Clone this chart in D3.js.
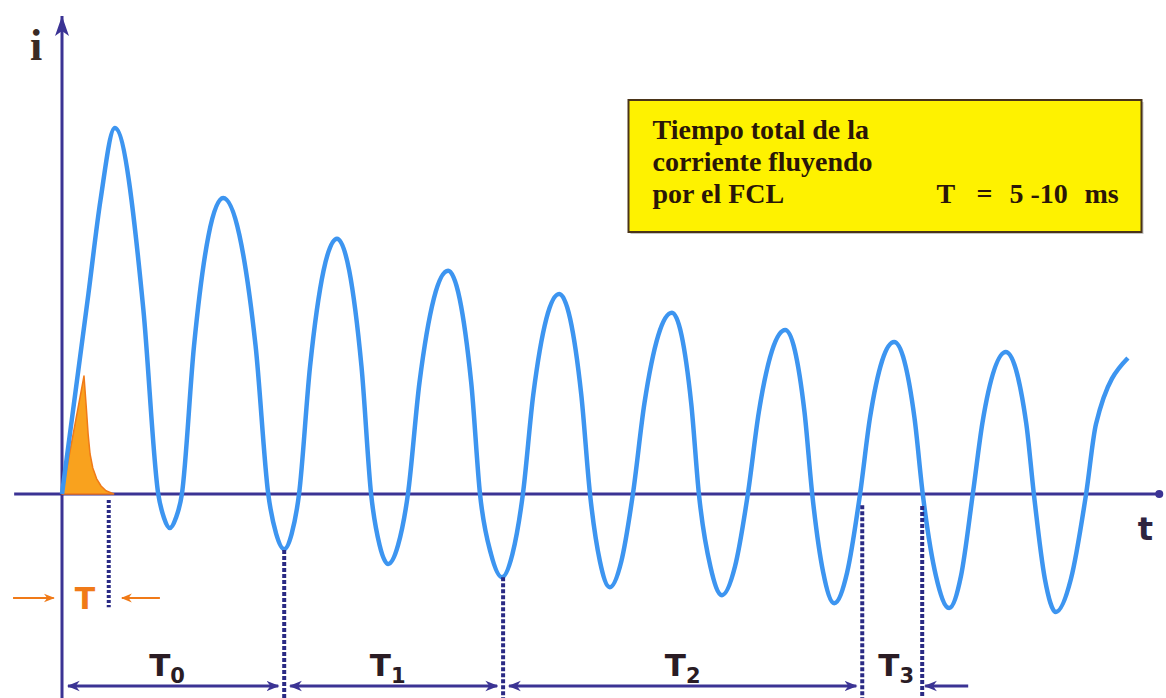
<!DOCTYPE html>
<html>
<head>
<meta charset="utf-8">
<script src="https://cdn.jsdelivr.net/npm/d3@7"></script>
<style>
  body { margin: 0; background: #fff; }
  svg { display: block; }
</style>
</head>
<body>
<svg id="chart" width="1166" height="698"></svg>
<script>
  // short-circuit current through the FCL (t in ms, i in p.u.)
  // zero crossings, flank points and extremes of every half wave
  var curveT = [0, 4.8, 7.0, 9.6, 14.8, 17.5, 18.55, 19.6, 20.7, 21.8,
                24.0, 29.3, 35.2, 37.5, 38.95, 40.4, 41.75, 43.1,
                45.1, 50.0, 54.45, 56.2, 57.75, 59.3, 61.1, 62.9,
                65.0, 70.2, 74.4, 76.0, 78.0, 80.0, 81.9, 83.8,
                85.7, 90.4, 94.4, 96.0, 97.8, 99.6, 101.7, 103.8,
                105.9, 110.9, 114.4, 115.8, 117.9, 120.0, 122.35, 124.7,
                126.7, 131.5, 135.0, 136.4, 138.4, 140.4, 142.75, 145.1,
                146.9, 151.3, 155.0, 156.5, 158.9, 161.3, 163.45, 165.6,
                167.35, 171.6, 175.3, 176.7, 178.7, 180.7, 183.45, 186.2,
                188.0, 193.8];
  var curveI = [0, 5.0, 7.35, 9.15, 4.6, 0, -0.6, -0.85, -0.6, 0,
                3.7, 7.4, 3.7, 0, -1.0, -1.38, -1.0, 0,
                3.19, 6.38, 3.19, 0, -1.28, -1.75, -1.28, 0,
                2.79, 5.58, 2.79, 0, -1.5, -2.08, -1.5, 0,
                2.5, 5.0, 2.5, 0, -1.68, -2.33, -1.68, 0,
                2.27, 4.53, 2.27, 0, -1.82, -2.53, -1.82, 0,
                2.05, 4.1, 2.05, 0, -1.96, -2.73, -1.96, 0,
                1.9, 3.8, 1.9, 0, -2.05, -2.85, -2.05, 0,
                1.78, 3.55, 1.78, 0, -2.12, -2.95, -2.12, 0,
                1.75, 3.4];

  // limited current pulse (orange)
  var pulseT = [0, 4.0, 4.4, 4.75, 5.1, 5.6, 6.3, 7.1, 8.0, 9.4];
  var pulseI = [0, 2.95, 2.2, 1.5, 1.0, 0.65, 0.38, 0.2, 0.08, 0];

  // interval boundaries (ms) and labels
  var pulseEnd   = 8.5;
  var spanStart  = [0, 40.4, 80.2, 145.5];
  var spanEnd    = [40.4, 80.2, 145.5, 156.4];
  var spanSub    = ["0", "1", "2", "3"];
  var dropFrom   = [-1.4, -2.08, -0.28, -0.3];   // where each dotted line starts

  var boxLines = ["Tiempo total de la", "corriente fluyendo", "por el FCL"];

  var svg = d3.select("#chart");
  var x = d3.scaleLinear().domain([0, 200]).range([62, 1162]);
  var y = d3.scaleLinear().domain([0, 10]).range([494, 94]);

  var navy = "#3b3394", dark = "#2a2a84", blue = "#3d95f0", orange = "#f07a18";

  var defs = svg.append("defs");
  function marker(id, color, size) {
    defs.append("marker")
      .attr("id", id)
      .attr("viewBox", "0 0 10 10")
      .attr("refX", 9).attr("refY", 5)
      .attr("markerWidth", size).attr("markerHeight", size)
      .attr("markerUnits", "userSpaceOnUse")
      .attr("orient", "auto-start-reverse")
      .append("path")
      .attr("d", "M0,1 L10,5 L0,9 L3,5 Z")
      .attr("fill", color);
  }
  marker("arrNavy", navy, 13);
  marker("arrOrange", orange, 11);

  // axes
  svg.append("line")
    .attr("x1", x(-8.7)).attr("x2", x(199.5))
    .attr("y1", y(0)).attr("y2", y(0))
    .attr("stroke", navy).attr("stroke-width", 3);
  svg.append("circle")
    .attr("cx", x(199.5)).attr("cy", y(0)).attr("r", 4)
    .attr("fill", navy);
  svg.append("line")
    .attr("x1", x(0)).attr("x2", x(0))
    .attr("y1", y(-5.2)).attr("y2", y(11.95))
    .attr("stroke", navy).attr("stroke-width", 3);
  svg.append("path")
    .attr("d", "M" + x(0) + "," + y(11.95) + " l-7,20 l7,-5 l7,5 z")
    .attr("fill", navy);

  svg.append("text")
    .attr("x", 30).attr("y", 60)
    .attr("font-family", "Liberation Serif").attr("font-weight", "bold")
    .attr("font-size", 44).attr("fill", "#3a2a24")
    .text("i");
  svg.append("text")
    .attr("x", x(197)).attr("y", y(-1.15))
    .attr("text-anchor", "middle")
    .attr("font-family", "DejaVu Sans").attr("font-weight", "bold")
    .attr("font-size", 32).attr("fill", "#2e2440")
    .text("t");

  // orange pulse
  var area = d3.area()
    .x(function(d, i){ return x(pulseT[i]); })
    .y0(y(0))
    .y1(function(d, i){ return y(pulseI[i]); });
  svg.append("path")
    .attr("d", area(pulseT))
    .attr("fill", "#f9a21e")
    .attr("stroke", "#f07a18").attr("stroke-width", 1.5)
    .attr("stroke-linejoin", "round");

  // current
  var line = d3.line()
    .x(function(d, i){ return x(curveT[i]); })
    .y(function(d, i){ return y(curveI[i]); })
    .curve(d3.curveMonotoneX);
  svg.append("path")
    .attr("d", line(curveT))
    .attr("fill", "none")
    .attr("stroke", blue).attr("stroke-width", 4.5)
    .attr("stroke-linejoin", "round");

  // dotted drop lines
  var bottom = y(-5.2);
  svg.append("line")
    .attr("x1", x(pulseEnd)).attr("x2", x(pulseEnd))
    .attr("y1", y(-0.15)).attr("y2", y(-2.83))
    .attr("stroke", dark).attr("stroke-width", 4)
    .attr("stroke-dasharray", "3,2");
  svg.selectAll(".drop")
    .data(spanEnd)
    .enter().append("line")
    .attr("class", "drop")
    .attr("x1", function(d){ return x(d); })
    .attr("x2", function(d){ return x(d); })
    .attr("y1", function(d, i){ return y(dropFrom[i]); })
    .attr("y2", bottom)
    .attr("stroke", dark).attr("stroke-width", 4)
    .attr("stroke-dasharray", "4,2");

  // T arrows (orange)
  var ty = y(-2.6);
  svg.append("line")
    .attr("x1", x(-8.9)).attr("x2", x(-1.5))
    .attr("y1", ty).attr("y2", ty)
    .attr("stroke", orange).attr("stroke-width", 2)
    .attr("marker-end", "url(#arrOrange)");
  svg.append("line")
    .attr("x1", x(17.8)).attr("x2", x(10.9))
    .attr("y1", ty).attr("y2", ty)
    .attr("stroke", orange).attr("stroke-width", 2)
    .attr("marker-end", "url(#arrOrange)");
  svg.append("text")
    .attr("x", x(4.2)).attr("y", ty + 11)
    .attr("text-anchor", "middle")
    .attr("font-family", "DejaVu Sans").attr("font-weight", "bold")
    .attr("font-size", 30).attr("fill", orange)
    .text("T");

  // interval dimension arrows
  var dy = y(-4.8);
  spanStart.forEach(function(s, i){
    var e = spanEnd[i];
    if (i < 3) {
      svg.append("line")
        .attr("x1", x(s) + 6).attr("x2", x(e) - 6)
        .attr("y1", dy).attr("y2", dy)
        .attr("stroke", navy).attr("stroke-width", 3)
        .attr("marker-start", "url(#arrNavy)")
        .attr("marker-end", "url(#arrNavy)");
    } else {
      svg.append("line")
        .attr("x1", x(e) + 46).attr("x2", x(e) + 3)
        .attr("y1", dy).attr("y2", dy)
        .attr("stroke", navy).attr("stroke-width", 3)
        .attr("marker-end", "url(#arrNavy)");
    }
    var lbl = svg.append("text")
      .attr("x", (x(s) + x(e)) / 2 - (i < 2 ? 6 : 0) + (i == 3 ? 4 : 0))
      .attr("y", dy - 10)
      .attr("text-anchor", "middle")
      .attr("font-family", "DejaVu Sans").attr("font-weight", "bold")
      .attr("fill", "#2a1c24");
    lbl.append("tspan").attr("font-size", 31).text("T");
    lbl.append("tspan").attr("font-size", 21).attr("dy", 7).text(spanSub[i]);
  });

  // yellow note box
  var bx = x(103), by = y(9.85), bw = 513, bh = 132;
  svg.append("rect")
    .attr("x", bx + 2).attr("y", by + 2)
    .attr("width", bw).attr("height", bh)
    .attr("fill", "#8a8a8a").attr("opacity", 0.5);
  svg.append("rect")
    .attr("x", bx).attr("y", by)
    .attr("width", bw).attr("height", bh)
    .attr("fill", "#fef200")
    .attr("stroke", "#4a3418").attr("stroke-width", 2);
  var note = svg.append("g")
    .attr("font-family", "Liberation Serif").attr("font-weight", "bold")
    .attr("font-size", 28).attr("fill", "#2a1608");
  boxLines.forEach(function(s, i){
    note.append("text")
      .attr("x", bx + 24).attr("y", by + 39 + i * 32)
      .text(s);
  });
  note.append("text").attr("x", bx + 308).attr("y", by + 103).text("T");
  note.append("text").attr("x", bx + 348).attr("y", by + 103).text("=");
  note.append("text").attr("x", bx + 381).attr("y", by + 103).text("5 -10");
  note.append("text").attr("x", bx + 456).attr("y", by + 103).text("ms");
</script>
</body>
</html>
